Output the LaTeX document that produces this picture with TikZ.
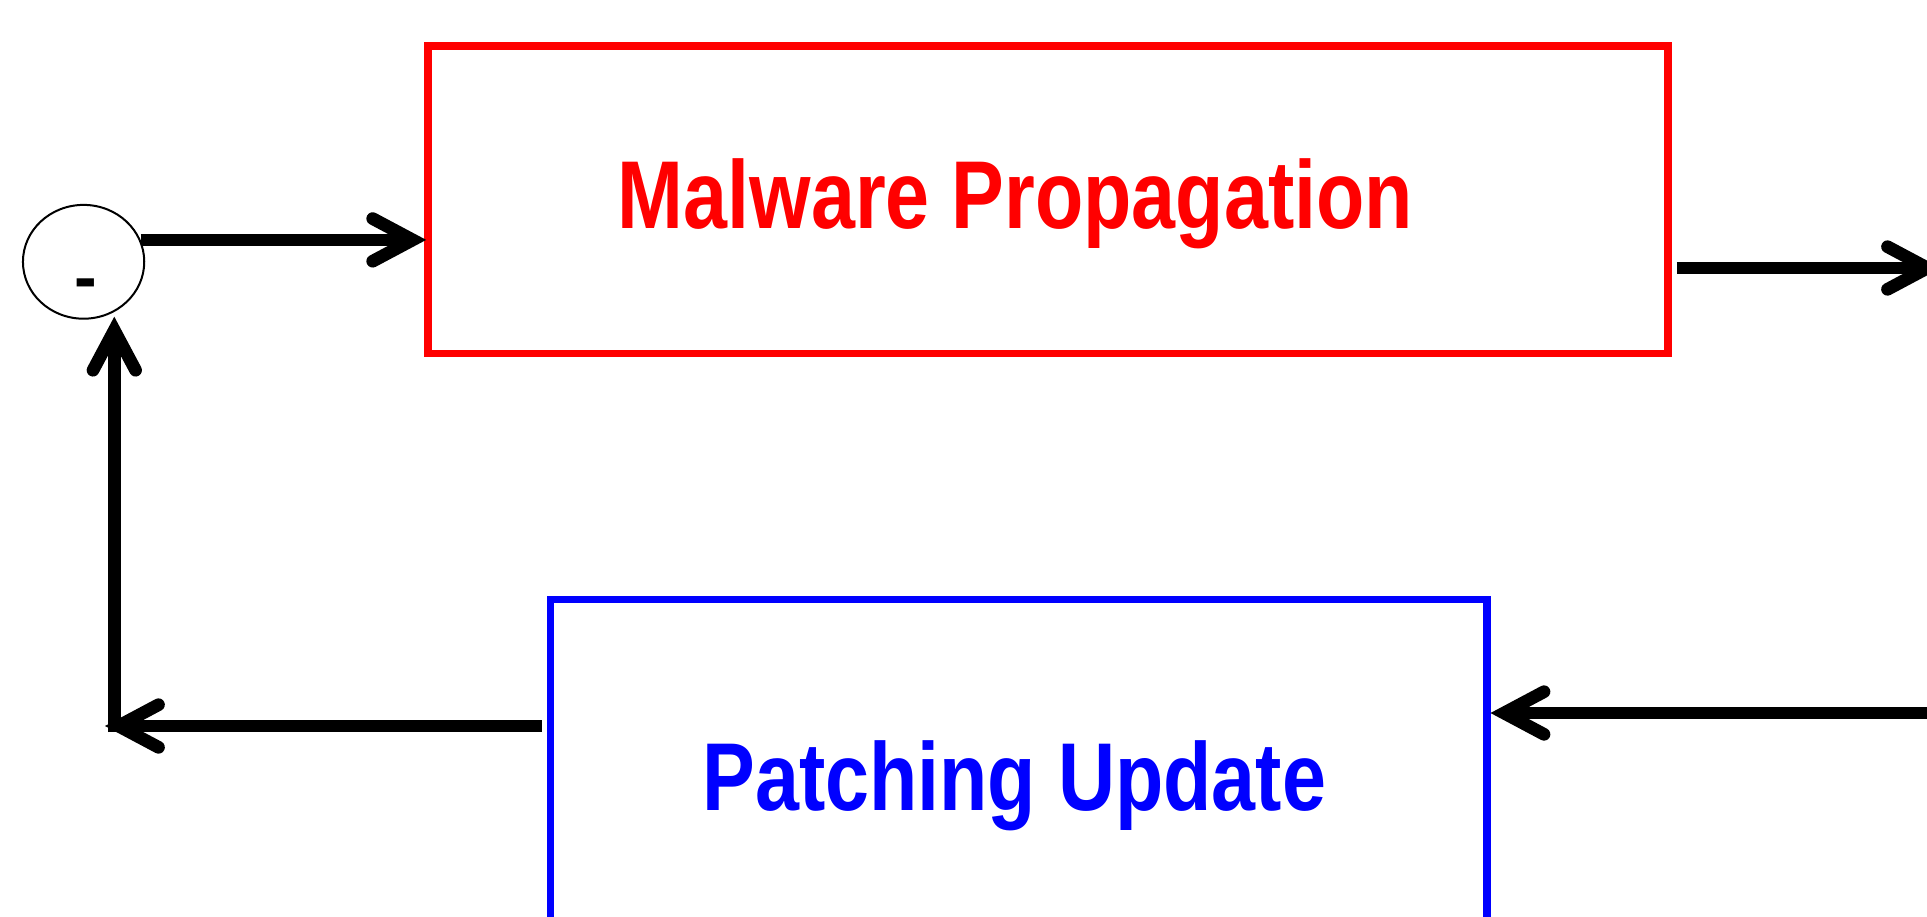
\documentclass[tikz,border=0pt]{standalone}
\usepackage{fontspec}
\usetikzlibrary{arrows.meta,shapes.geometric}
\newfontfamily\lblfont{Liberation Sans}[FakeStretch=0.82]
\newfontfamily\signfont{Liberation Sans}

\definecolor{malred}{RGB}{255,0,0}
\definecolor{patblue}{RGB}{0,0,255}

\tikzset{
  blockbox/.style={rectangle, draw=#1, line width=3.8pt, inner sep=0pt, fill=white},
  blocktext/.style={text=#1, font=\lblfont\bfseries\fontsize{48.2pt}{58pt}\selectfont,
    inner sep=0pt, anchor=base},
  sumnode/.style={ellipse, draw=black, line width=1pt, inner sep=0pt,
    minimum width=60.65pt, minimum height=56.9pt},
  flow/.style={draw=black, line width=6.35pt,
    -{Straight Barb[length=20pt, width=21.3pt, line cap=round, line join=miter]}},
}

\begin{document}
\begin{tikzpicture}[x=0.5pt, y=-0.5pt]
  % page frame
  \fill[white] (0,0) rectangle (1927,916);
  \clip (0,0) rectangle (1927,916);

  % blocks
  \node[blockbox=malred, minimum width=620pt, minimum height=153.65pt] (mal) at (1048,199.7) {};
  \node[blocktext=malred] (maltext) at (1015.5,228.3) {Malware Propagation};

  \node[blockbox=patblue, minimum width=468.1pt, minimum height=180.25pt] (pat) at (1018.6,779.75) {};
  \node[blocktext=patblue] (pattext) at (1014.2,810.7) {Patching Update};

  % summing junction
  \node[sumnode] (sum) at (83.6,261.8) {};
  \node[font=\signfont\bfseries\fontsize{34pt}{40pt}\selectfont, inner sep=0pt, anchor=base] (minus) at (86,300) {-};

  % free ends of the loop
  \coordinate (outend) at (1941,268);
  \coordinate (inend) at (1945,713);
  \coordinate (fbtip) at (105,726);
  \coordinate (fbcorner) at (114.3,732);

  % connectors
  \draw[flow, shorten >=-1pt] (sum.21) -- (sum.21 -| mal.west);
  \draw[flow, shorten <=2.5pt] (outend -| mal.east) -- (outend);
  \draw[flow] (inend) -- (inend -| pat.east);
  \draw[flow, shorten <=2.5pt] (fbtip -| pat.west) -- (fbtip);
  \draw[flow, shorten >=-1.5pt] (fbcorner) -- (fbcorner |- sum.south);
\end{tikzpicture}
\end{document}
